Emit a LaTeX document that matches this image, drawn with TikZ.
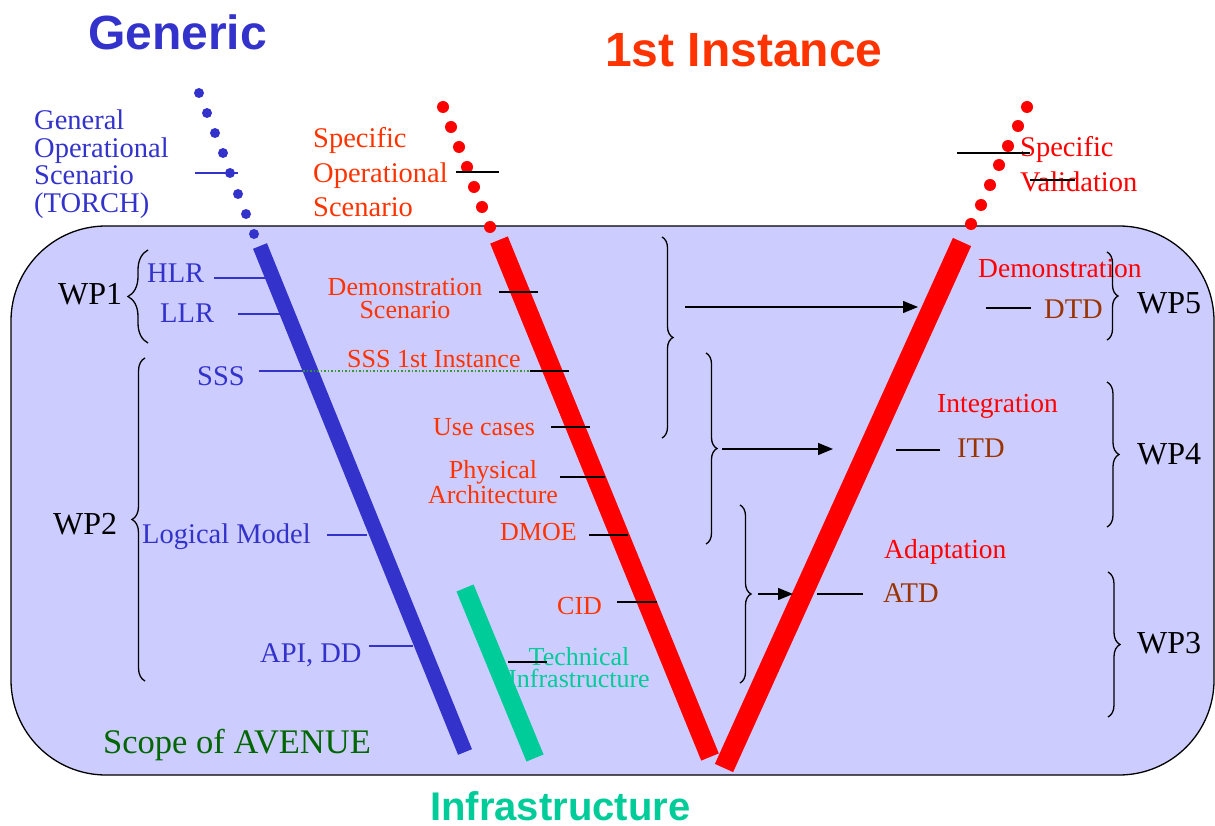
\documentclass[tikz,border=0pt]{standalone}
\usepackage{fontspec}
\setmainfont{Liberation Serif}
\newfontfamily\headfont{Liberation Sans}
\usetikzlibrary{arrows.meta,decorations.pathreplacing}

\definecolor{genblue}{HTML}{3333CC}
\definecolor{instred}{HTML}{FF3300}
\definecolor{purered}{HTML}{FF0000}
\definecolor{infragreen}{HTML}{00CC99}
\definecolor{scopegreen}{HTML}{006600}
\definecolor{tdbrown}{HTML}{993300}
\definecolor{scopefill}{HTML}{CCCCFF}
\definecolor{dotgreen}{HTML}{339933}

\newcommand{\fsz}[2]{\fontsize{#1}{#2}\selectfont}

\begin{document}
\begin{tikzpicture}[x=1pt,y=-1pt,
  lbl/.style={inner sep=0pt, anchor=base west},
  clbl/.style={inner sep=0pt, anchor=base, align=center},
  titletext/.style={lbl, font=\headfont\bfseries\fsz{48}{50}},
  wplbl/.style={lbl, font=\fsz{32}{34}, text=black},
  bluelbl/.style={lbl, font=\fsz{28.5}{30}, text=genblue},
  redlbl/.style={lbl, font=\fsz{26}{24}, text=instred},
  phaselbl/.style={lbl, font=\fsz{27.5}{30}, text=purered},
  tdlbl/.style={lbl, font=\fsz{28.5}{30}, text=tdbrown},
  linkline/.style={line width=1.3pt, black},
  bluelink/.style={line width=1.3pt, genblue},
  flow/.style={line width=1.3pt, -{Triangle[length=15pt,width=12pt]}},
  wpbrace/.style={decorate, decoration={brace, amplitude=#1}, line width=1.3pt},
  vbar/.style={line width=#1}
]
\useasboundingbox (0,0) rectangle (1215,826);

% scope box
\draw[fill=scopefill, line width=1.3pt, rounded corners=95pt] (11,226) rectangle (1214,775);

% headings
\node[titletext, text=genblue] (generic) at (88,50) {Generic};
\node[titletext, text=instred] (inst) at (605,67) {1st Instance};
\node[lbl, font=\headfont\bfseries\fsz{40}{42}, text=infragreen] (infra) at (430,820) {Infrastructure};

% dotted lead-ins above the scope box
\foreach \x/\y in {199/93,207/113,215/133,223/153,230/173,238/194,246/214,254/234}
  \fill[genblue] (\x,\y) circle[radius=5pt];
\foreach \x/\y in {443/107,451/127,459/147,467/167,474/187,482/207,490/227}
  \fill[purered] (\x,\y) circle[radius=6pt];
\foreach \x/\y in {1027/107,1018/126,1008/146,999/165,990/185,981/205,971/224}
  \fill[purered] (\x,\y) circle[radius=6pt];

% the V bars
\draw[vbar=15pt, genblue] (260,246) -- (465,752);
\draw[vbar=18.5pt, infragreen] (465,588) -- (535,758);
\draw[vbar=19pt, purered] (499,240) -- (710,757);
\draw[vbar=20pt, purered] (962,242) -- (724,768);

% texts above the box (multi-line nodes sit on their last baseline)
\node[lbl, align=left, font=\fsz{28.5}{27.5}, text=genblue] (gos) at (34,212.5)
  {General\\Operational\\Scenario\\(TORCH)};
\node[lbl, align=left, font=\fsz{28.5}{34.5}, text=instred] (sos) at (313,217)
  {Specific\\Operational\\Scenario};
\node[lbl, align=left, font=\fsz{28.5}{35}, text=purered] (sval) at (1020,192)
  {Specific\\Validation};

% work packages
\node[wplbl] (wp1) at (58,305) {WP1};
\node[wplbl] (wp2) at (53,534) {WP2};
\node[wplbl] (wp5) at (1137,313) {WP5};
\node[wplbl] (wp4) at (1137,464) {WP4};
\node[wplbl] (wp3) at (1137,653) {WP3};

% generic side
\node[bluelbl] (hlr) at (147,283) {HLR};
\node[bluelbl] (llr) at (160,322) {LLR};
\node[bluelbl] (sss) at (197,385) {SSS};
\node[bluelbl] (logm) at (142,543) {Logical Model};
\node[bluelbl] (apidd) at (260,662) {API, DD};

% first instance side
\node[clbl, font=\fsz{26}{24}, text=instred] (demoscen) at (405,319) {Demonstration\\Scenario};
\node[redlbl] (sss1) at (347,367) {SSS 1st Instance};
\node[redlbl] (usec) at (433,435) {Use cases};
\node[clbl, font=\fsz{26}{25}, text=instred] (phys) at (493,503) {Physical\\Architecture};
\node[redlbl] (dmoe) at (500,540) {DMOE};
\node[redlbl] (cid) at (557,614) {CID};
\node[clbl, font=\fsz{26}{22}, text=infragreen] (techinf) at (579,687) {Technical\\Infrastructure};

% validation side
\node[phaselbl] (demo) at (978,277) {Demonstration};
\node[tdlbl] (dtd) at (1044,318) {DTD};
\node[phaselbl] (integ) at (937,412) {Integration};
\node[tdlbl] (itd) at (957,457) {ITD};
\node[phaselbl] (adapt) at (884,558) {Adaptation};
\node[tdlbl] (atd) at (883,602) {ATD};

\node[lbl, font=\fsz{34.5}{36}, text=scopegreen] (scope) at (103,753) {Scope of AVENUE};

% braces
\draw[wpbrace=20pt] (148,343) -- (148,250);
\draw[wpbrace=13pt] (145,681) -- (145,358);
\draw[wpbrace=11pt] (662,237) -- (662,438);
\draw[wpbrace=11pt] (706,353) -- (706,544);
\draw[wpbrace=11pt] (740,505) -- (740,683);
\draw[wpbrace=11pt] (1107,252) -- (1107,340);
\draw[wpbrace=12pt] (1107,382) -- (1107,527);
\draw[wpbrace=12pt] (1108,572) -- (1108,717);

% connector end points
\coordinate (gosA) at (195,173);   \coordinate (gosB) at (238,173);
\coordinate (sosA) at (456,172);   \coordinate (sosB) at (499,172);
\coordinate (svA) at (957,153);    \coordinate (svB) at (1030,153);
\coordinate (svC) at (1030,180);   \coordinate (svD) at (1075,180);
\coordinate (hlrA) at (214,278);   \coordinate (hlrB) at (266,278);
\coordinate (llrA) at (238,314);   \coordinate (llrB) at (281,314);
\coordinate (sssA) at (259,371);   \coordinate (sssB) at (303,371);
\coordinate (sssC) at (530,371);   \coordinate (sssD) at (569,371);
\coordinate (logA) at (327,535);   \coordinate (logB) at (367,535);
\coordinate (apiA) at (369,646);   \coordinate (apiB) at (413,646);
\coordinate (demA) at (499,292);   \coordinate (demB) at (538,292);
\coordinate (useA) at (551,427);   \coordinate (useB) at (590,427);
\coordinate (phyA) at (560,477);   \coordinate (phyB) at (605,477);
\coordinate (dmoA) at (589,535);   \coordinate (dmoB) at (628,535);
\coordinate (cidA) at (617,602);   \coordinate (cidB) at (657,602);
\coordinate (tecA) at (508,662);   \coordinate (tecB) at (547,662);
\coordinate (dtdA) at (986,308);   \coordinate (dtdB) at (1031,308);
\coordinate (itdA) at (896,450);   \coordinate (itdB) at (940,450);
\coordinate (atdA) at (817,594);   \coordinate (atdB) at (863,594);
\coordinate (f1A) at (685,307);    \coordinate (f1B) at (918,307);
\coordinate (f2A) at (722,449);    \coordinate (f2B) at (833,449);
\coordinate (f3A) at (758,594);    \coordinate (f3B) at (793,594);

% connectors
\draw[bluelink] (gosA) -- (gosB);
\draw[linkline] (sosA) -- (sosB);
\draw[linkline] (svA) -- (svB);
\draw[linkline] (svC) -- (svD);
\draw[bluelink] (hlrA) -- (hlrB);
\draw[bluelink] (llrA) -- (llrB);
\draw[bluelink] (sssA) -- (sssB);
\draw[line width=1.5pt, dotgreen, dotted] (sssB) -- (sssC);
\draw[linkline] (sssC) -- (sssD);
\draw[bluelink] (logA) -- (logB);
\draw[bluelink] (apiA) -- (apiB);
\draw[linkline] (demA) -- (demB);
\draw[linkline] (useA) -- (useB);
\draw[linkline] (phyA) -- (phyB);
\draw[linkline] (dmoA) -- (dmoB);
\draw[linkline] (cidA) -- (cidB);
\draw[linkline] (tecA) -- (tecB);
\draw[linkline] (dtdA) -- (dtdB);
\draw[linkline] (itdA) -- (itdB);
\draw[linkline] (atdA) -- (atdB);
\draw[flow] (f1A) -- (f1B);
\draw[flow] (f2A) -- (f2B);
\draw[flow] (f3A) -- (f3B);
\end{tikzpicture}
\end{document}
